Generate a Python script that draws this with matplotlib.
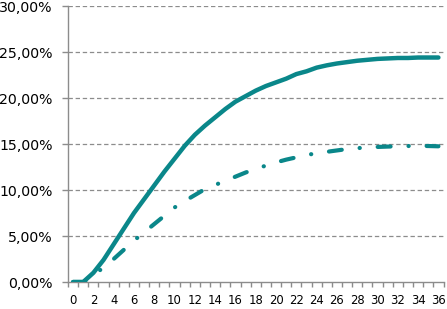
import matplotlib
matplotlib.use("Agg")
import matplotlib.pyplot as plt
from matplotlib.ticker import FuncFormatter, FixedLocator

months = list(range(0, 37))
solid_pct = [0.0, 0.0, 1.0, 2.4, 4.1, 5.8, 7.5, 9.0, 10.5, 12.0, 13.4, 14.8, 16.0, 17.0,
             17.9, 18.8, 19.6, 20.2, 20.8, 21.3, 21.7, 22.1, 22.6, 22.9, 23.3, 23.55,
             23.75, 23.9, 24.05, 24.15, 24.25, 24.3, 24.35, 24.35, 24.4, 24.4, 24.4]
dashdot_pct = [0.0, 0.0, 0.7, 1.6, 2.5, 3.5, 4.5, 5.4, 6.3, 7.2, 8.1, 8.8, 9.45, 10.1,
               10.55, 11.0, 11.45, 11.9, 12.3, 12.65, 13.0, 13.3, 13.55, 13.8, 14.0, 14.15,
               14.3, 14.45, 14.55, 14.62, 14.68, 14.72, 14.75, 14.78, 14.8, 14.78, 14.75]
y_ticks = [0, 5, 10, 15, 20, 25, 30]
x_labels = list(range(0, 37, 2))

teal = '#0A878A'
gray = '#8C8C8C'

W, H = 447, 309
fig = plt.figure(figsize=(W / 100, H / 100), dpi=100)
ax = fig.add_axes([68 / W, 1 - 282 / H, (443.5 - 68) / W, (282 - 6) / H])

ax.plot(months, [v / 100 for v in solid_pct], color=teal, lw=3.2,
        solid_joinstyle='round', solid_capstyle='round', zorder=3)
ax.plot(months, [v / 100 for v in dashdot_pct], color=teal, lw=3.0,
        linestyle=(0, (3.1, 4.3, 0.05, 4.3)), dash_capstyle='round',
        dash_joinstyle='round', zorder=3)

ax.set_xlim(-0.5, 36.5)
ax.set_ylim(0, 0.30)

ax.yaxis.set_major_locator(FixedLocator([v / 100 for v in y_ticks]))
ax.yaxis.set_major_formatter(FuncFormatter(lambda v, p: f"{v*100:.2f}%".replace('.', ',')))
ax.xaxis.set_major_locator(FixedLocator(x_labels))
ax.xaxis.set_minor_locator(FixedLocator([m - 0.5 for m in months] + [36.5]))

for v in y_ticks[1:]:
    ax.axhline(v / 100, color=gray, lw=0.9, linestyle=(0, (3.5, 2.2)), zorder=1)

for s in ['top', 'right']:
    ax.spines[s].set_visible(False)
for s in ['left', 'bottom']:
    ax.spines[s].set_color(gray)
    ax.spines[s].set_linewidth(1.0)

ax.tick_params(axis='y', which='major', direction='out', length=4, width=1.0,
               color=gray, pad=7, labelsize=10.2, labelcolor='black')
ax.tick_params(axis='x', which='major', length=0, pad=9, labelsize=8.4, labelcolor='black')
ax.tick_params(axis='x', which='minor', direction='out', length=3.5, width=1.0, color=gray)

fig.savefig('out.png', dpi=100)
